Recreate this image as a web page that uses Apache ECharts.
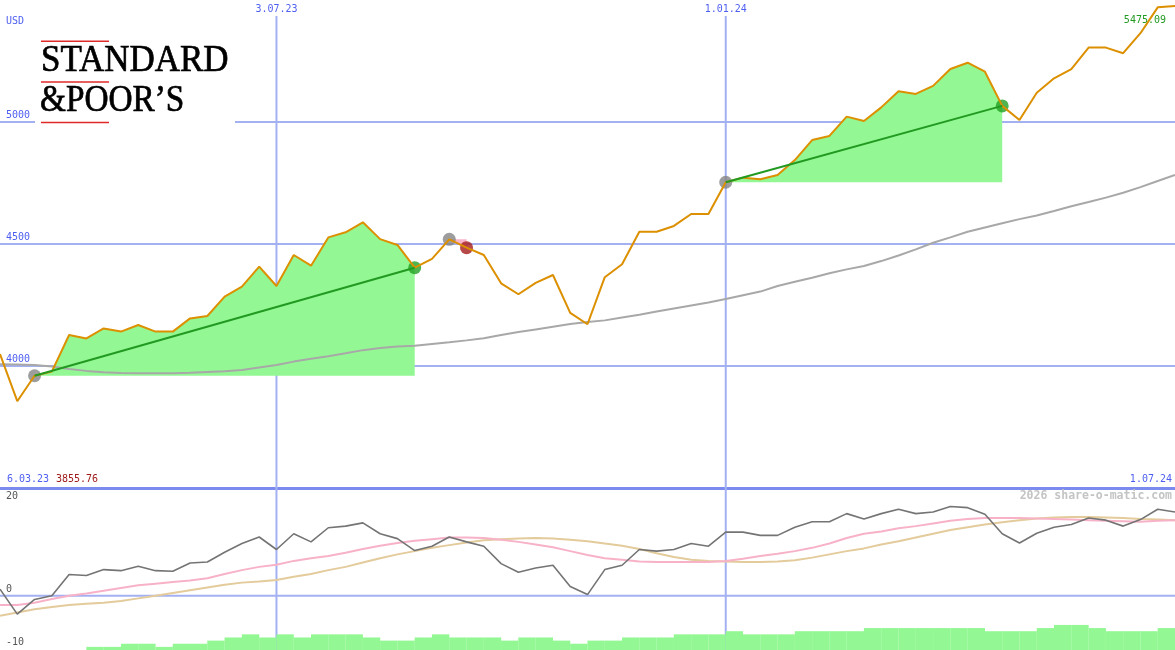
<!DOCTYPE html>
<html><head><meta charset="utf-8">
<script src="https://cdn.jsdelivr.net/npm/echarts@6/dist/echarts.min.js"></script>
<style>html,body{margin:0;padding:0;background:#fff}#c{width:1175px;height:650px}</style>
</head><body><div id="c"></div>
<script>
// ---------- DATA (weekly, 69 points) ----------
const price = [4049, 3855.76, 3960, 3977, 4127, 4113, 4154, 4141, 4168, 4141,
  4141, 4195, 4205, 4284, 4325, 4407, 4328, 4455, 4411, 4527,
  4548, 4589, 4520, 4496, 4403, 4439, 4519, 4485, 4455, 4339,
  4294, 4341, 4373, 4218, 4171, 4364, 4417, 4550, 4550, 4574,
  4623, 4623, 4753, 4772, 4765, 4783, 4844, 4926, 4943, 5022,
  5004, 5060, 5126, 5115, 5148, 5217, 5243, 5206, 5066, 5008,
  5120, 5179, 5217, 5305, 5305, 5282, 5364, 5470, 5475.09];
const movingAvg = [4007, 4006, 4004, 3998, 3988, 3980, 3974, 3971, 3970, 3970,
  3970, 3972, 3975, 3978, 3984, 3994, 4004, 4018, 4030, 4040,
  4052, 4065, 4074, 4080, 4083, 4090, 4097, 4105, 4114, 4127,
  4139, 4150, 4161, 4172, 4180, 4187, 4199, 4210, 4223, 4236,
  4248, 4260, 4275, 4290, 4305, 4328, 4345, 4362, 4380, 4396,
  4410, 4430, 4453, 4478, 4505, 4527, 4550, 4568, 4585, 4602,
  4617, 4635, 4655, 4672, 4690, 4710, 4733, 4758, 4783];
const oscillator = [1.2, -3.4, -0.7, 0.0, 3.9, 3.7, 4.8, 4.6, 5.4, 4.6,
  4.5, 6.0, 6.2, 8.0, 9.6, 10.8, 8.5, 11.4, 9.9, 12.5,
  12.8, 13.4, 11.4, 10.5, 8.3, 9.1, 10.8, 9.9, 9.1, 5.9,
  4.3, 5.1, 5.6, 1.7, 0.2, 4.8, 5.6, 8.5, 8.2, 8.5,
  9.6, 9.1, 11.7, 11.7, 11.1, 11.1, 12.6, 13.6, 13.6, 15.1,
  14.1, 15.1, 15.9, 15.1, 15.4, 16.4, 16.2, 15.0, 11.4, 9.7,
  11.5, 12.6, 13.1, 14.3, 13.9, 12.8, 14.0, 15.9, 15.4];
const oscFast = [-1.7, -1.7, -1.3, -0.6, 0.0, 0.4, 0.9, 1.4, 1.9, 2.2,
  2.5, 2.8, 3.2, 4.0, 4.7, 5.3, 5.7, 6.4, 6.9, 7.3,
  7.9, 8.6, 9.2, 9.7, 10.1, 10.4, 10.7, 10.7, 10.6, 10.3,
  9.9, 9.4, 8.9, 8.2, 7.5, 6.9, 6.6, 6.3, 6.2, 6.2,
  6.2, 6.2, 6.4, 6.8, 7.3, 7.7, 8.2, 8.8, 9.6, 10.6,
  11.4, 11.8, 12.4, 12.8, 13.3, 13.8, 14.1, 14.3, 14.3, 14.3,
  14.2, 14.1, 14.0, 13.9, 13.8, 13.7, 13.6, 13.8, 13.9];
const oscSlow = [-3.7, -3.1, -2.5, -2.1, -1.7, -1.5, -1.3, -1.0, -0.5, 0.0,
  0.5, 1.0, 1.5, 2.0, 2.4, 2.6, 2.9, 3.5, 4.0, 4.7,
  5.3, 6.1, 6.9, 7.6, 8.2, 8.8, 9.3, 9.8, 10.2, 10.4,
  10.5, 10.6, 10.5, 10.3, 10.0, 9.6, 9.2, 8.6, 7.8, 7.1,
  6.6, 6.4, 6.3, 6.2, 6.2, 6.3, 6.5, 7.0, 7.6, 8.2,
  8.7, 9.4, 10.0, 10.7, 11.4, 12.1, 12.6, 13.1, 13.5, 13.9,
  14.2, 14.4, 14.5, 14.5, 14.4, 14.3, 14.1, 14.0, 13.9];
// one level per week interval (between point k and k+1)
const histLevels = [0, 0, 0, 0, 0, 1, 1, 2, 2, 1,
  2, 2, 3, 4, 5, 4, 5, 4, 5, 5,
  5, 4, 3, 3, 4, 5, 4, 4, 4, 3,
  4, 4, 3, 2, 3, 3, 4, 4, 4, 5,
  5, 5, 6, 5, 5, 5, 6, 6, 6, 6,
  7, 7, 7, 7, 7, 7, 7, 6, 6, 6,
  7, 8, 8, 7, 6, 6, 6, 7];
const tradeEntry = [2, 26, 42];
const tradeExit = [24, 27, 58];
const tradeWin = [true, false, true];
const dateTickIndex = [16, 42];
const dateTickLabel = ['3.07.23', '1.01.24'];
const priceTicks = [4000, 4500, 5000];
const oscTicks = [20, 0, -10];
const rangeLabels = ['6.03.23', '1.07.24'];
const currency = 'USD';
const watermark = '2026 share-o-matic.com';

// ---------- STYLE ----------
const N = price.length;
const GRID = '#a3b1f2', BORDER = '#7a8aee', LBL = '#4e5ff0';
const WIN = '#93f893', LOSS = '#f8b4c8', TREND = '#229a22';
const PMIN = 3500, PMAX = 5500, VTOP = 5434;
const MONO = '"DejaVu Sans Mono", monospace';

const pts = arr => arr.map((v, i) => [i, v]);
function gl(g, d) {
  return {type: 'line', xAxisIndex: g, yAxisIndex: g, data: d, symbol: 'none', silent: true,
    lineStyle: {color: GRID, width: 2}, z: 1};
}
const S = [];
priceTicks.forEach(v => S.push(gl(0, [[0, v], [N - 1, v]])));
dateTickIndex.forEach(i => { S.push(gl(0, [[i, VTOP], [i, PMIN]])); S.push(gl(1, [[i, -10], [i, 20]])); });
S.push(gl(1, [[0, 0], [N - 1, 0]]));

// histogram bars
S.push({type: 'bar', xAxisIndex: 1, yAxisIndex: 2, data: histLevels.map((v, k) => [k + 0.5, v]),
  barWidth: 17.4, itemStyle: {color: WIN}, z: 2, silent: true});

// trade areas
tradeEntry.forEach((a, t) => {
  const b = tradeExit[t], base = price[a];
  const seg = [];
  for (let i = a; i <= b; i++) seg.push([i, price[i]]);
  S.push({type: 'line', xAxisIndex: 0, yAxisIndex: 0, data: seg, symbol: 'none', silent: true,
    lineStyle: {width: 0, opacity: 0}, areaStyle: {color: tradeWin[t] ? WIN : LOSS, opacity: 1, origin: base}, z: 3});
  if (tradeWin[t]) {
    S.push({type: 'line', xAxisIndex: 0, yAxisIndex: 0, data: [[a, base], [b, price[b]]], symbol: 'none', silent: true,
      lineStyle: {color: TREND, width: 2}, z: 7});
  }
});

S.push({type: 'line', xAxisIndex: 0, yAxisIndex: 0, data: pts(movingAvg), symbol: 'none', silent: true,
  lineStyle: {color: '#a8a8a8', width: 2}, z: 4});
S.push({type: 'scatter', xAxisIndex: 0, yAxisIndex: 0, data: tradeEntry.map(i => [i, price[i]]),
  symbolSize: 13, itemStyle: {color: '#858585'}, z: 5, silent: true});
S.push({type: 'scatter', xAxisIndex: 0, yAxisIndex: 0,
  data: tradeExit.map((i, t) => ({value: [i, price[i]], itemStyle: {color: tradeWin[t] ? '#23a023' : '#a51c1c'}})),
  symbolSize: 13, z: 5, silent: true});
S.push({type: 'line', xAxisIndex: 0, yAxisIndex: 0, data: pts(price), symbol: 'none', silent: true,
  lineStyle: {color: '#dc9000', width: 2}, z: 6});

S.push({type: 'line', xAxisIndex: 1, yAxisIndex: 1, data: pts(oscSlow), symbol: 'none', silent: true,
  lineStyle: {color: '#e3cb9b', width: 2}, z: 3});
S.push({type: 'line', xAxisIndex: 1, yAxisIndex: 1, data: pts(oscFast), symbol: 'none', silent: true,
  lineStyle: {color: '#f7b2c8', width: 2}, z: 4});
S.push({type: 'line', xAxisIndex: 1, yAxisIndex: 1, data: pts(oscillator), symbol: 'none', silent: true,
  lineStyle: {color: '#747474', width: 1.6}, z: 5});

const chart = echarts.init(document.getElementById('c'));
chart.setOption({
  animation: false,
  backgroundColor: '#ffffff',
  grid: [{left: 0, right: 0, top: 0, height: 488}, {left: 0, right: 0, top: 487, height: 163}],
  xAxis: [
    {type: 'value', gridIndex: 0, min: 0, max: N - 1, axisLine: {show: true, onZero: false, lineStyle: {color: BORDER, width: 3}},
      axisTick: {show: false}, axisLabel: {show: false}, splitLine: {show: false}},
    {type: 'value', gridIndex: 1, min: 0, max: N - 1, show: false, splitLine: {show: false}}
  ],
  yAxis: [
    {type: 'value', gridIndex: 0, min: PMIN, max: PMAX, show: false, splitLine: {show: false}},
    {type: 'value', gridIndex: 1, min: -10, max: 20, show: false, splitLine: {show: false}},
    {type: 'value', gridIndex: 1, min: 0, max: 52, show: false, splitLine: {show: false}}
  ],
  series: S
});

// ---------- TEXT / LOGO ----------
const px = (g, x, y) => chart.convertToPixel({xAxisIndex: g, yAxisIndex: g}, [x, y]);
const T = (x, y, text, o) => Object.assign({type: 'text', x: x, y: y, z: 20, silent: true,
  style: Object.assign({text: text, font: '10px ' + MONO, fill: LBL, align: 'left', verticalAlign: 'middle'}, o || {})});
const G = [];
G.push({type: 'rect', z: 2, silent: true, shape: {x: 35, y: 30, width: 200, height: 98}, style: {fill: '#ffffff'}});
[40.5, 81.3, 121.7].forEach(y => G.push({type: 'rect', z: 20, silent: true, shape: {x: 41, y: y, width: 68, height: 1.5}, style: {fill: '#e02a2a'}}));
G.push({type: 'text', x: 41, y: 61.5, scaleX: 0.945, z: 20, silent: true,
  style: {text: 'STANDARD', font: '37px "Liberation Serif", serif', fill: '#000', stroke: '#000', lineWidth: 0.7, verticalAlign: 'middle'}});
G.push({type: 'text', x: 40, y: 101.5, scaleX: 0.9, z: 20, silent: true,
  style: {text: '&POOR\u2019S', font: '37px "Liberation Serif", serif', fill: '#000', stroke: '#000', lineWidth: 0.7, verticalAlign: 'middle'}});

G.push(T(6, 21.5, currency));
priceTicks.forEach(v => G.push(T(6, px(0, 0, v)[1] - 7, String(v))));
dateTickIndex.forEach((i, k) => G.push(T(px(0, i, PMAX)[0], 9, dateTickLabel[k], {align: 'center'})));
const yB = px(0, 0, PMIN)[1];
G.push(T(7, yB - 9, rangeLabels[0]));
G.push(T(56, yB - 9, Math.min(...price).toFixed(2), {fill: '#a01a1a'}));
G.push(T(1172, yB - 9, rangeLabels[1], {align: 'right'}));
const last = px(0, N - 1, price[N - 1]);
G.push(T(1166, last[1] + 14, price[N - 1].toFixed(2), {align: 'right', fill: '#229a22'}));
G.push(T(1172, 496, watermark, {align: 'right', fill: '#c4c4c4', font: 'bold 11.5px ' + MONO}));
oscTicks.forEach(v => {
  const y = px(1, 0, v)[1];
  const yy = v === 20 ? y + 9.5 : (v === 0 ? y - 6 : y - 7.5);
  G.push(T(6, yy, String(v), {fill: '#555555'}));
});
chart.setOption({graphic: {elements: G}});
</script>
</body></html>
